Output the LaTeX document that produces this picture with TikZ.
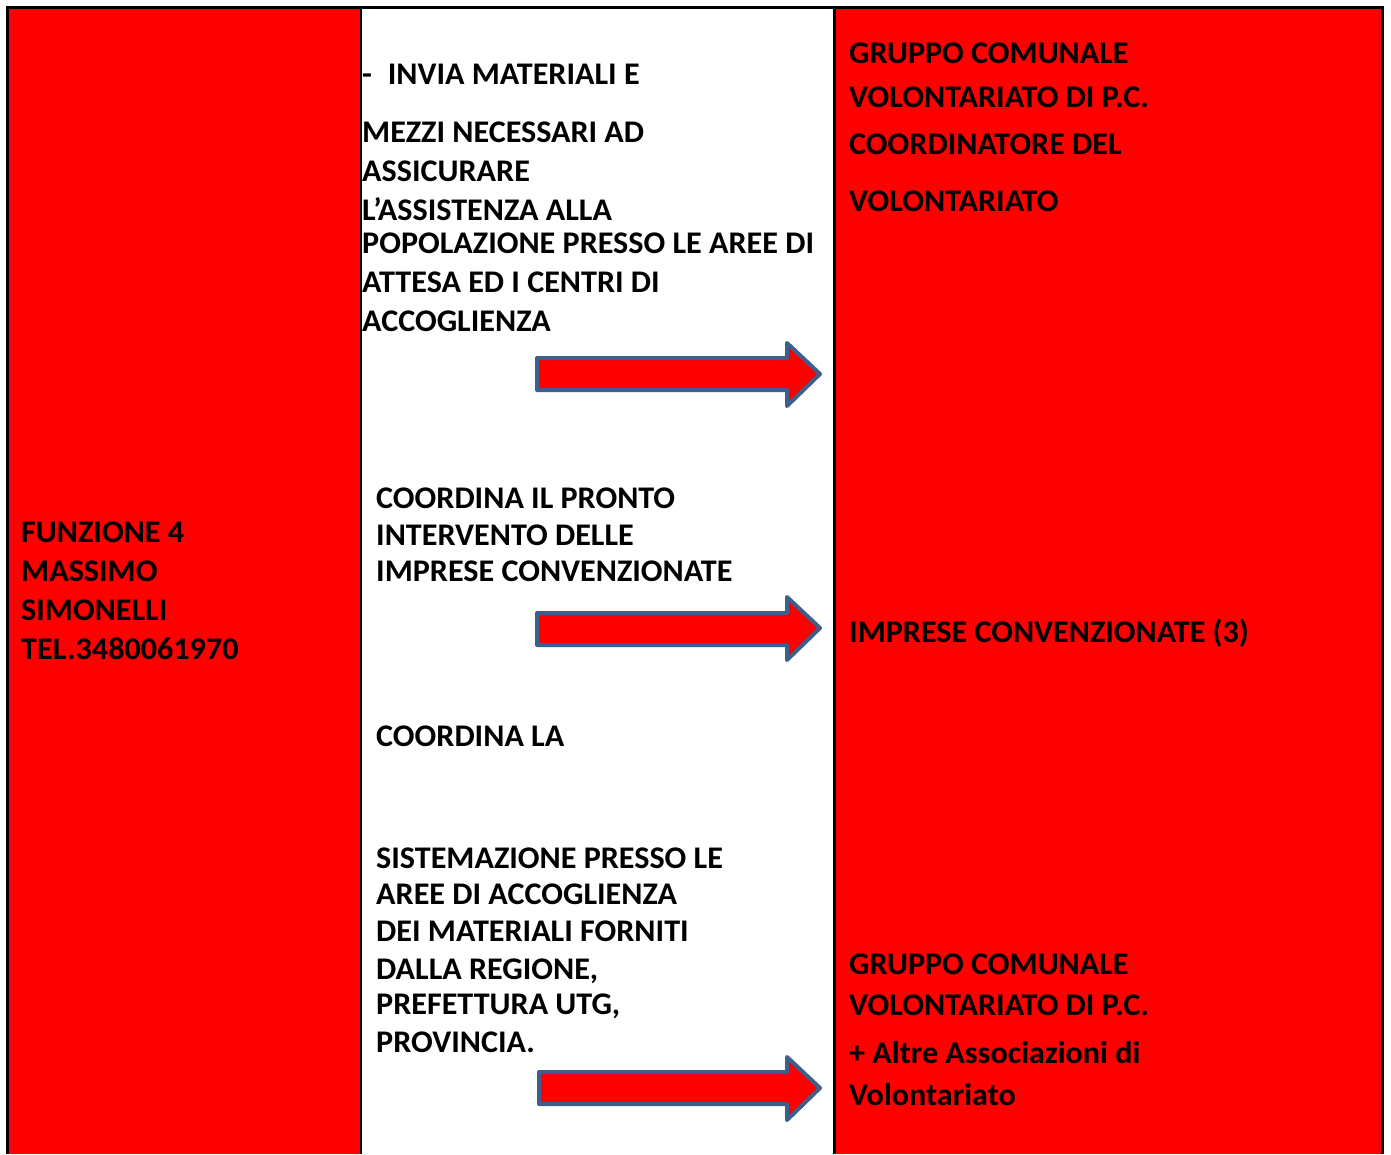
\documentclass[tikz,border=0pt]{standalone}
\usepackage{fontspec}
\setmainfont{Carlito}[FakeStretch=1.02]
\definecolor{cellred}{RGB}{255,0,0}
\definecolor{arrowedge}{RGB}{60,95,140}
\begin{document}
\begin{tikzpicture}[x=1pt,y=-1pt,
  txt/.style={anchor=base west,inner sep=0pt,font=\fontsize{31.5}{34}\selectfont\bfseries},
  bigarrow/.style={fill=cellred,draw=arrowedge,line width=4pt,line join=round}]
\useasboundingbox (0,0) rectangle (1391,1154);
\fill[white] (0,0) rectangle (1391,1154);
\fill[cellred] (7,7) rectangle (361,1154);
\fill[cellred] (834,7) rectangle (1382,1154);
\draw[line width=3pt] (7,1154) -- (7,7) -- (1382,7) -- (1382,1154);
\draw[line width=2pt] (361,7) -- (361,1154);
\draw[line width=3pt] (834,7) -- (834,1154);
% left column
\node[txt] (l1) at (21,542) {FUNZIONE 4};
\node[txt] (l2) at (21,581) {MASSIMO};
\node[txt] (l3) at (21,620) {SIMONELLI};
\node[txt] (l4) at (21,659) {TEL.3480061970};
% middle column
\node[txt] (m1) at (362,84) {-\hspace{0.5em}INVIA MATERIALI E};
\node[txt] (m2) at (362,142) {MEZZI NECESSARI AD};
\node[txt] (m3) at (362,181) {ASSICURARE};
\node[txt] (m4) at (362,220) {L’ASSISTENZA ALLA};
\node[txt] (m5) at (362,253) {POPOLAZIONE PRESSO LE AREE DI};
\node[txt] (m6) at (362,292) {ATTESA ED I CENTRI DI};
\node[txt] (m7) at (362,331) {ACCOGLIENZA};
\node[txt] (m8) at (376,508) {COORDINA IL PRONTO};
\node[txt] (m9) at (376,545) {INTERVENTO DELLE};
\node[txt] (m10) at (376,581) {IMPRESE CONVENZIONATE};
\node[txt] (m11) at (376,746) {COORDINA LA};
\node[txt] (m12) at (376,868) {SISTEMAZIONE PRESSO LE};
\node[txt] (m13) at (376,904) {AREE DI ACCOGLIENZA};
\node[txt] (m14) at (376,941) {DEI MATERIALI FORNITI};
\node[txt] (m15) at (376,979) {DALLA REGIONE,};
\node[txt] (m16) at (376,1014) {PREFETTURA UTG,};
\node[txt] (m17) at (376,1052) {PROVINCIA.};
% right column
\node[txt] (r1) at (849,63) {GRUPPO COMUNALE};
\node[txt] (r2) at (849,107) {VOLONTARIATO DI P.C.};
\node[txt] (r3) at (849,154) {COORDINATORE DEL};
\node[txt] (r4) at (849,211) {VOLONTARIATO};
\node[txt] (r5) at (849,642) {IMPRESE CONVENZIONATE (3)};
\node[txt] (r6) at (849,974) {GRUPPO COMUNALE};
\node[txt] (r7) at (849,1015) {VOLONTARIATO DI P.C.};
\node[txt] (r8) at (849,1063) {+ Altre Associazioni di};
\node[txt] (r9) at (849,1105) {Volontariato};
% arrows
\draw[bigarrow] (537,358) -- (787,358) -- (787,343) -- (820,374) -- (787,406) -- (787,390) -- (537,390) -- cycle;
\draw[bigarrow] (537,613) -- (787,613) -- (787,597) -- (820,628) -- (787,660) -- (787,645) -- (537,645) -- cycle;
\draw[bigarrow] (539,1072) -- (787,1072) -- (787,1057) -- (820,1088) -- (787,1120) -- (787,1104) -- (539,1104) -- cycle;
\end{tikzpicture}
\end{document}
